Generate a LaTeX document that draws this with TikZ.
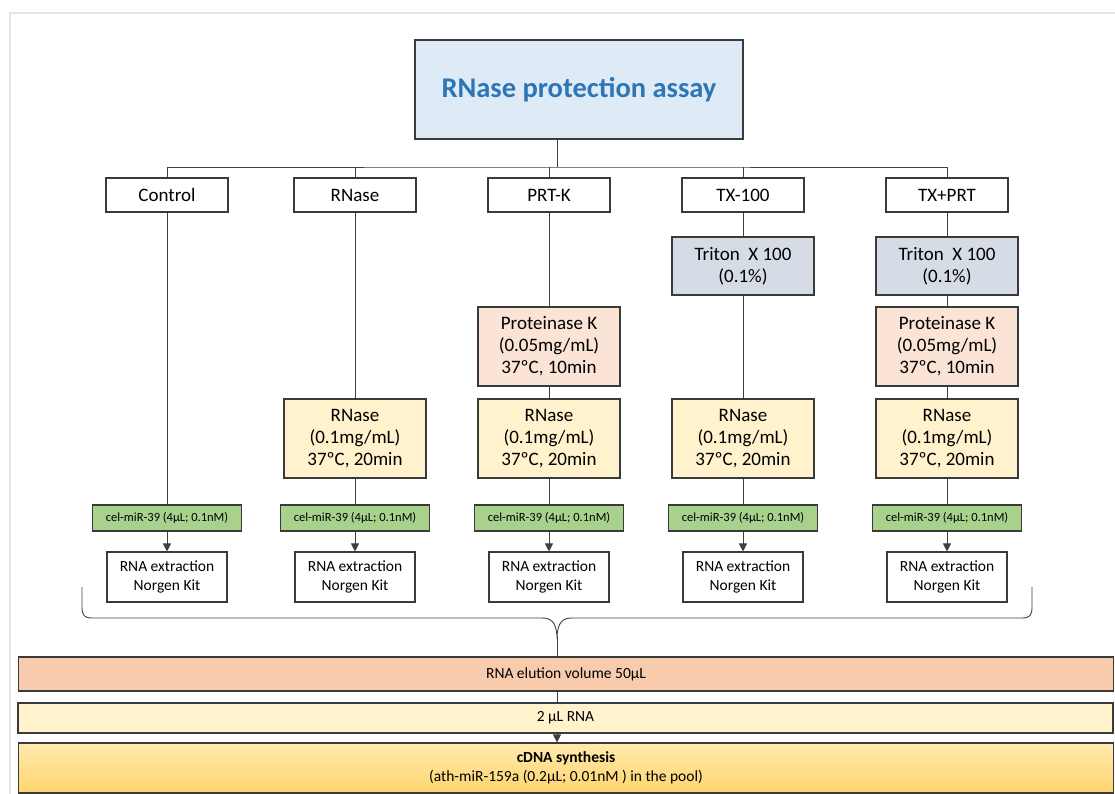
\documentclass[tikz,border=0pt]{standalone}
\usepackage{fontspec}
\setmainfont{Carlito}
\usepackage{xcolor}
\usepackage{tikz}
\usetikzlibrary{arrows.meta, calc, positioning}

\definecolor{titlefill}{HTML}{DEEBF7}
\definecolor{titletext}{HTML}{2E75B6}
\definecolor{tritonfill}{HTML}{D6DCE5}
\definecolor{protfill}{HTML}{FBE3D6}
\definecolor{rnasefill}{HTML}{FFF2CC}
\definecolor{celfill}{HTML}{A9D18E}
\definecolor{elutionfill}{HTML}{F8CBAD}
\definecolor{cdnatop}{HTML}{FFEAAE}
\definecolor{cdnabottom}{HTML}{FFD46E}
\definecolor{boxline}{HTML}{3A3A3A}
\definecolor{frameline}{HTML}{E4E4E4}

\begin{document}
\begin{tikzpicture}[x=1pt, y=-1pt,
	every node/.style={draw=boxline, line width=1.1pt, inner sep=0pt, align=center},
	lbl/.style={minimum width=122pt, minimum height=34pt, font=\fontsize{19}{22}\selectfont},
	treat/.style={minimum width=142pt, font=\fontsize{19}{22}\selectfont},
	triton/.style={treat, fill=tritonfill, minimum height=58pt},
	prot/.style={treat, fill=protfill, minimum height=79pt},
	rnase/.style={treat, fill=rnasefill, minimum height=79pt},
	cel/.style={fill=celfill, minimum width=149pt, minimum height=26pt, font=\fontsize{12.5}{15}\selectfont},
	extr/.style={minimum width=120pt, minimum height=50pt, font=\fontsize{15.5}{19}\selectfont},
	bar/.style={minimum width=1095pt, font=\fontsize{15.5}{19}\selectfont},
	wire/.style={draw=black!75, line width=0.9pt},
	arr/.style={wire, -{Triangle[length=8pt, width=8pt]}}]
	\useasboundingbox (0,0) rectangle (1115,794);
	\clip (0,0) rectangle (1115,794);
	\draw [frameline, line width=1.6pt] (10,13) rectangle (1140,820);
	
	% title and the five groups
	\node [fill=titlefill, minimum width=328pt, minimum height=99pt, text=titletext, font=\fontsize{28.5}{32}\selectfont\bfseries] (title) at (579,89.5) {RNase protection assay};
	\coordinate (hub) at (557,167);
	
	\node [lbl] (ctrl) at (167,195) {Control};
	\node [lbl] (rnlbl) at (355,195) {RNase};
	\node [lbl] (prtlbl) at (549,195) {PRT-K};
	\node [lbl] (txlbl) at (743,195) {TX-100};
	\node [lbl] (txprtlbl) at (947,195) {TX+PRT};
	
	\draw [wire] (title.south -| hub) -- (hub);
	\draw [wire] (ctrl.north) |- (hub) -| (txprtlbl.north);
	\draw [wire] (rnlbl.north) -- (rnlbl.north |- hub);
	\draw [wire] (prtlbl.north) -- (prtlbl.north |- hub);
	\draw [wire] (txlbl.north) -- (txlbl.north |- hub);
	
	% treatments
	\node [triton] (triton4) at (743,266) {Triton\ \ X 100\\(0.1\%)};
	\node [triton] (triton5) at (947,266) {Triton\ \ X 100\\(0.1\%)};
	
	\node [prot] (prot3) at (549,346.5) {Proteinase K\\(0.05mg/mL)\\37ºC, 10min};
	\node [prot] (prot5) at (947,346.5) {Proteinase K\\(0.05mg/mL)\\37ºC, 10min};
	
	\node [rnase] (rn2) at (355,438.5) {RNase\\(0.1mg/mL)\\37ºC, 20min};
	\node [rnase] (rn3) at (549,438.5) {RNase\\(0.1mg/mL)\\37ºC, 20min};
	\node [rnase] (rn4) at (743,438.5) {RNase\\(0.1mg/mL)\\37ºC, 20min};
	\node [rnase] (rn5) at (947,438.5) {RNase\\(0.1mg/mL)\\37ºC, 20min};
	
	% spike-in and extraction
	\node [cel] (cel1) at (167,518) {cel-miR-39 (4µL; 0.1nM)};
	\node [cel] (cel2) at (355,518) {cel-miR-39 (4µL; 0.1nM)};
	\node [cel] (cel3) at (549,518) {cel-miR-39 (4µL; 0.1nM)};
	\node [cel] (cel4) at (743,518) {cel-miR-39 (4µL; 0.1nM)};
	\node [cel] (cel5) at (947,518) {cel-miR-39 (4µL; 0.1nM)};
	
	\node [extr] (ext1) at (167,577) {RNA extraction\\Norgen Kit};
	\node [extr] (ext2) at (355,577) {RNA extraction\\Norgen Kit};
	\node [extr] (ext3) at (549,577) {RNA extraction\\Norgen Kit};
	\node [extr] (ext4) at (743,577) {RNA extraction\\Norgen Kit};
	\node [extr] (ext5) at (947,577) {RNA extraction\\Norgen Kit};
	
	\draw [wire] (ctrl) -- (cel1);
	\draw [wire] (rnlbl) -- (rn2) -- (cel2);
	\draw [wire] (prtlbl) -- (prot3) -- (rn3) -- (cel3);
	\draw [wire] (txlbl) -- (triton4) -- (rn4) -- (cel4);
	\draw [wire] (txprtlbl) -- (triton5) -- (prot5) -- (rn5) -- (cel5);
	
	\draw [arr] (cel1) -- (ext1);
	\draw [arr] (cel2) -- (ext2);
	\draw [arr] (cel3) -- (ext3);
	\draw [arr] (cel4) -- (ext4);
	\draw [arr] (cel5) -- (ext5);
	
	% pooling brace
	\coordinate (tip) at (557,636);
	\draw [wire] (82,587) -- (82,607) .. controls (82,615) and (84,618) .. (92,618) -- (542,618) .. controls (551,618) and (556,622) .. (tip) .. controls (558,622) and (563,618) .. (572,618) -- (1022,618) .. controls (1030,618) and (1032,615) .. (1032,607) -- (1032,587);
	
	% downstream steps
	\node [bar, fill=elutionfill, minimum height=34pt] (elution) at (566,674) {RNA elution volume 50µL};
	\node [bar, fill=rnasefill, minimum height=30pt] (twoul) at (565.5,718) {2 µL RNA};
	\node [bar, top color=cdnatop, bottom color=cdnabottom, minimum height=50pt] (cdna) at (566,768) {\textbf{cDNA synthesis}\\(ath-miR-159a (0.2µL; 0.01nM ) in the pool)};
	
	\draw [wire] (tip) -- (elution.north -| tip);
	\draw [wire] (elution.south -| tip) -- (twoul.north -| tip);
	\draw [arr] (twoul.south -| tip) -- (cdna.north -| tip);
\end{tikzpicture}
\end{document}
